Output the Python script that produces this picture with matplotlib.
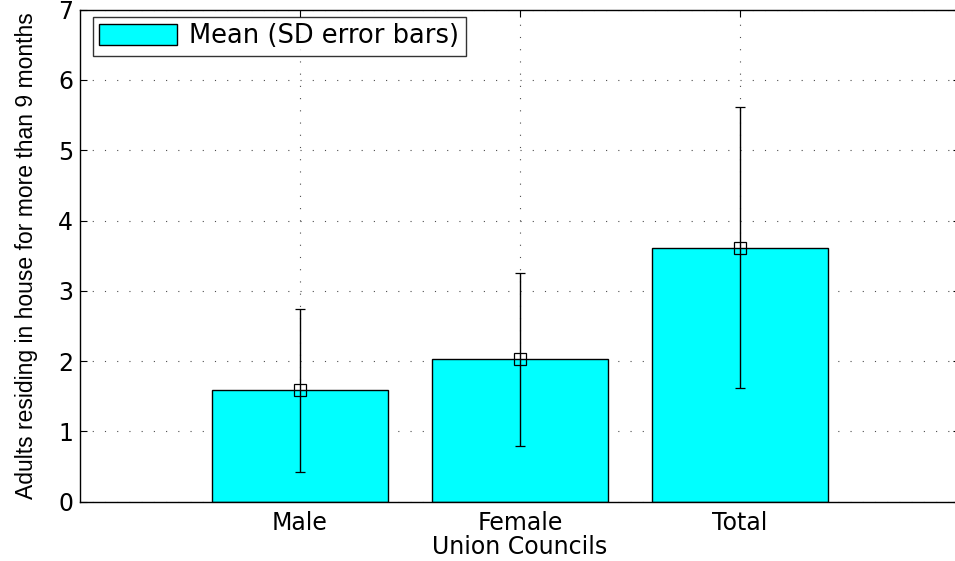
import matplotlib
matplotlib.use("Agg")
import matplotlib.pyplot as plt
import numpy as np

categories = ["Male", "Female", "Total"]
means = [1.585, 2.027, 3.613]
sds = [1.16, 1.23, 2.00]
yticks = [0, 1, 2, 3, 4, 5, 6, 7]

plt.rcParams['font.family'] = ['DejaVu Sans']

fig = plt.figure(figsize=(9.55, 5.61), dpi=100)
ax = fig.add_axes([80/955, 59.3/561, 880/955, 492.1/561])

x = np.arange(1, len(categories) + 1)
ax.bar(x, means, width=0.8, color='#00FFFF', edgecolor='black', linewidth=1.0,
       label='Mean (SD error bars)', zorder=2)
ax.errorbar(x, means, yerr=sds, fmt='s', mfc='none', mec='black', ms=9, mew=0.9,
            ecolor='black', elinewidth=1.0, capsize=3.3, capthick=1.0, zorder=3)

ax.set_xlim(0, 4)
ax.set_ylim(0, 7)
ax.set_xticks(x)
ax.set_xticklabels(categories)
ax.set_yticks(yticks)
ax.tick_params(direction='in', top=True, right=True, labelsize=17, length=5, width=0.8, pad=5)
ax.tick_params(axis='x', pad=7)
ax.set_axisbelow(True)
ax.grid(True, linestyle=(0, (1, 10)), color='0.3', linewidth=0.8)
for s in ax.spines.values():
    s.set_linewidth(1.0)

ax.set_xlabel('Union Councils', fontsize=17, labelpad=0)
ax.set_ylabel('Adults residing in house for more than 9 months', fontsize=16.5,
              family='Liberation Sans', labelpad=14)

leg = ax.legend(loc='upper left', bbox_to_anchor=(93/955, 544/561),
                bbox_transform=fig.transFigure, fontsize=18.5, frameon=True, fancybox=False,
                edgecolor='black', handlelength=3.0, handleheight=0.85,
                borderaxespad=0, borderpad=0.25, handletextpad=0.5)
leg.get_frame().set_linewidth(1.0)

fig.savefig('out.png', dpi=100)
